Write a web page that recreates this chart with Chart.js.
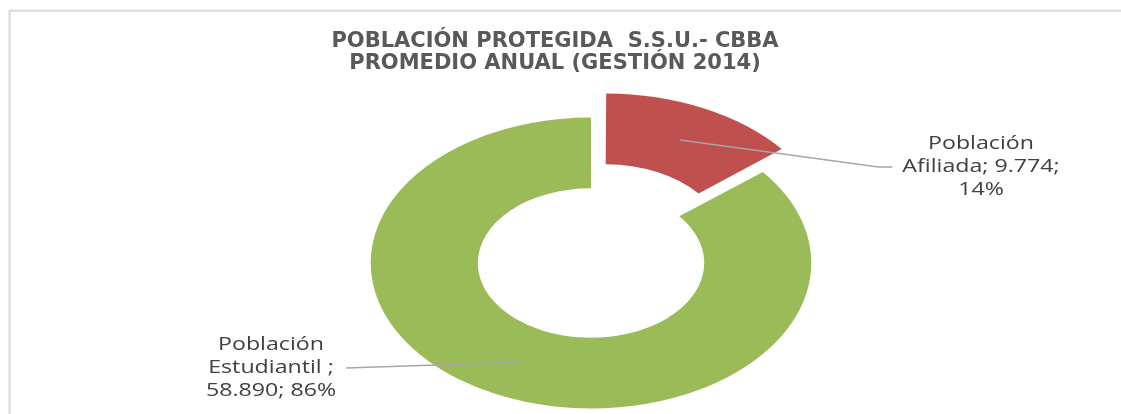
<!DOCTYPE html>
<html lang="es">
<head>
<meta charset="utf-8">
<title>Población protegida S.S.U. - CBBA</title>
<script src="https://cdn.jsdelivr.net/npm/chart.js@4.4.1/dist/chart.umd.min.js"></script>
<style>
  html, body { margin: 0; padding: 0; background: #fff; }
  #wrap { position: relative; width: 1121px; height: 414px; }
</style>
</head>
<body>
<div id="wrap"><canvas id="poblacionChart"></canvas></div>
<script>
// datos del grafico
var categories = ['Población Afiliada', 'Población Estudiantil '];
var values = [9774, 58890];
var titleLines = ['POBLACIÓN PROTEGIDA  S.S.U.- CBBA', 'PROMEDIO ANUAL (GESTIÓN 2014)'];

var sliceColors = ['#C0504D', '#9BBB59'];
var explode = [86, 0];

// the original picture is stretched sideways, so the ring is drawn as an ellipse
var donut = { cx: 591, cy: 263, stretchX: 1.515 };

// data label boxes, relative to the ring centre
var labelAnchors = [{ dx: 390, dy: -96, elbow: 14 }, { dx: -320, dy: 105, elbow: 0 }];
var labelFont = '19px "Open Sans"';
var labelStretch = 1.22;
var labelLineHeight = 23;
var labelWrap = 180;

var total = values.reduce(function (a, b) { return a + b; }, 0);

function fmtNum(n) {
    return String(n).replace(/\B(?=(\d{3})+(?!\d))/g, '.');
}

function wrapLabel(ctx, text) {
    var words = text.split(' ');
    var lines = [];
    var cur = '';
    words.forEach(function (w) {
        var test = cur ? cur + ' ' + w : w;
        if (cur && ctx.measureText(test).width * labelStretch > labelWrap) {
            lines.push(cur);
            cur = w;
        } else {
            cur = test;
        }
    });
    if (cur) lines.push(cur);
    return lines;
}

function toScreen(el, px, py) {
    return {
        x: donut.cx + (px - el.x) * donut.stretchX,
        y: donut.cy + (py - el.y)
    };
}

var framePlugin = {
    id: 'frame',
    beforeDraw: function (chart) {
        var ctx = chart.ctx;
        ctx.save();
        ctx.strokeStyle = '#D9D9D9';
        ctx.lineWidth = 2;
        ctx.beginPath();
        ctx.moveTo(9.5, chart.height);
        ctx.lineTo(9.5, 10.8);
        ctx.lineTo(chart.width, 10.8);
        ctx.stroke();
        ctx.restore();
    }
};

var ellipsePlugin = {
    id: 'ellipseDonut',
    beforeDatasetsDraw: function (chart) {
        var el = chart.getDatasetMeta(0).data[0];
        var ctx = chart.ctx;
        ctx.save();
        ctx.translate(donut.cx, donut.cy);
        ctx.scale(donut.stretchX, 1);
        ctx.translate(-el.x, -el.y);
    },
    afterDatasetsDraw: function (chart) {
        var ctx = chart.ctx;
        ctx.restore();

        var meta = chart.getDatasetMeta(0);
        ctx.save();
        ctx.font = labelFont;
        meta.data.forEach(function (el, i) {
            var pct = Math.round(values[i] / total * 100);
            var text = categories[i] + '; ' + fmtNum(values[i]) + '; ' + pct + '%';
            var lines = wrapLabel(ctx, text);
            var widest = 0;
            lines.forEach(function (l) {
                widest = Math.max(widest, ctx.measureText(l).width * labelStretch);
            });

            var ax = donut.cx + labelAnchors[i].dx;
            var ay = donut.cy + labelAnchors[i].dy;

            // leader line from the middle of the slice
            var o = (el.options.offset || 0) / 4;
            var mid = (el.startAngle + el.endAngle) / 2;
            var fix = 1 - Math.sin(Math.min(Math.PI, el.circumference));
            var r = (el.innerRadius + el.outerRadius) / 2 + o * fix + o;
            var p = toScreen(el, el.x + Math.cos(mid) * r, el.y + Math.sin(mid) * r);

            var side = ax > p.x ? -1 : 1;
            var endX = ax + side * (widest / 2 + 10);
            var elbowX = endX + side * labelAnchors[i].elbow;

            ctx.strokeStyle = '#A6A6A6';
            ctx.lineWidth = 1.5;
            ctx.beginPath();
            ctx.moveTo(p.x, p.y);
            ctx.lineTo(elbowX, ay);
            ctx.lineTo(endX, ay);
            ctx.stroke();

            ctx.fillStyle = '#404040';
            ctx.textAlign = 'center';
            ctx.textBaseline = 'middle';
            lines.forEach(function (l, k) {
                var y = ay + (k - (lines.length - 1) / 2) * labelLineHeight;
                ctx.save();
                ctx.translate(ax, y);
                ctx.scale(labelStretch, 1);
                ctx.fillText(l, 0, 0);
                ctx.restore();
            });
        });
        ctx.restore();
    }
};

var poblacionChart;

function drawPoblacionChart() {
    var ctx = document.getElementById('poblacionChart');

    poblacionChart = new Chart(ctx, {
        type: 'doughnut',
        data: {
            labels: categories,
            datasets: [{
                data: values,
                backgroundColor: sliceColors,
                borderWidth: 0,
                offset: explode,
                radius: 145.4,
                clip: false
            }]
        },
        options: {
            responsive: true,
            maintainAspectRatio: false,
            animation: false,
            events: [],
            cutout: '51.4%',
            layout: { padding: { top: 0, right: 11, bottom: 0, left: 0 } },
            plugins: {
                legend: { display: false },
                tooltip: { enabled: false },
                title: {
                    display: true,
                    text: titleLines,
                    color: '#595959',
                    font: { family: 'DejaVu Sans', size: 21, weight: 'bold', lineHeight: 1.04 },
                    padding: { top: 31, bottom: 20 }
                }
            }
        },
        plugins: [framePlugin, ellipsePlugin]
    });
}

drawPoblacionChart();
</script>
</body>
</html>
